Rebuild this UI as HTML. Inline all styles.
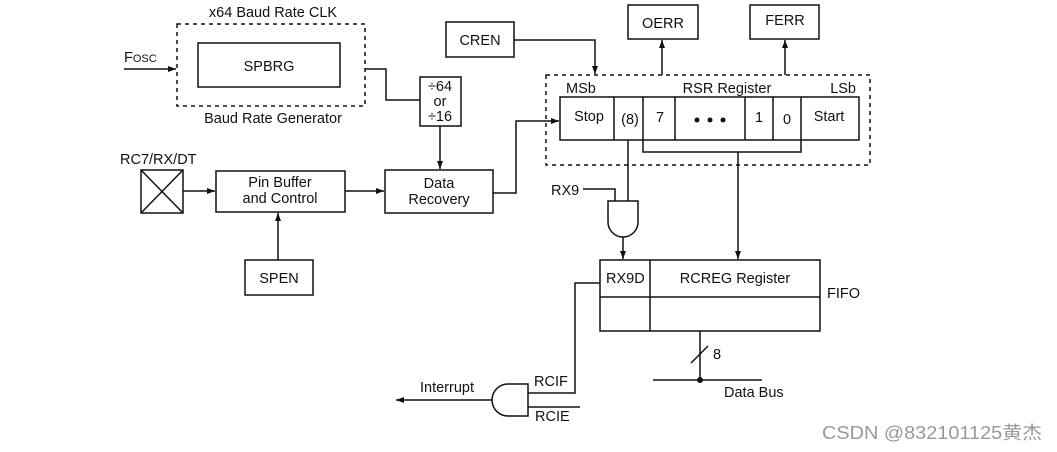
<!DOCTYPE html>
<html><head><meta charset="utf-8"><style>
body{margin:0;background:#fff}
svg{display:block}
text{font-family:"Liberation Sans",Arial,sans-serif;font-size:14.5px;fill:#111}
</style></head><body>
<svg width="1057" height="452" viewBox="0 0 1057 452" xmlns="http://www.w3.org/2000/svg">
<defs><marker id="a" markerWidth="8" markerHeight="6" refX="8" refY="3" orient="auto" markerUnits="userSpaceOnUse"><path d="M0,0 L8,3 L0,6 z" fill="#111"/></marker></defs>
<g stroke="#111" stroke-width="1.5" fill="none">
<rect x="177" y="24" width="188" height="82" stroke-dasharray="4,4"/>
<rect x="198" y="43" width="142" height="44"/>
<line x1="124" y1="69" x2="176" y2="69" marker-end="url(#a)"/>
<polyline points="365,69 386,69 386,100 420,100"/>
<rect x="420" y="77" width="41" height="49"/>
<line x1="440" y1="126" x2="440" y2="169" marker-end="url(#a)"/>
<rect x="385" y="170" width="108" height="43"/>
<rect x="141" y="170" width="42" height="43"/>
<line x1="141" y1="170" x2="183" y2="213"/><line x1="183" y1="170" x2="141" y2="213"/>
<line x1="183" y1="191" x2="215" y2="191" marker-end="url(#a)"/>
<rect x="216" y="171" width="129" height="41"/>
<line x1="345" y1="191" x2="384" y2="191" marker-end="url(#a)"/>
<rect x="245" y="260" width="68" height="35"/>
<line x1="278" y1="260" x2="278" y2="213" marker-end="url(#a)"/>
<polyline points="493,193 516,193 516,121 559,121" marker-end="url(#a)"/>
<rect x="446" y="22" width="68" height="35"/>
<polyline points="514,40 595,40 595,74" marker-end="url(#a)"/>
<rect x="628" y="5" width="70" height="34"/>
<rect x="750" y="5" width="69" height="34"/>
<line x1="662" y1="75" x2="662" y2="40" marker-end="url(#a)"/>
<line x1="785" y1="75" x2="785" y2="40" marker-end="url(#a)"/>
<rect x="546" y="75" width="324" height="90" stroke-dasharray="4,4"/>
<rect x="560" y="97" width="299" height="43"/>
<line x1="614" y1="97" x2="614" y2="140"/><line x1="643" y1="97" x2="643" y2="140"/>
<line x1="675" y1="97" x2="675" y2="140"/><line x1="745" y1="97" x2="745" y2="140"/>
<line x1="773" y1="97" x2="773" y2="140"/><line x1="801" y1="97" x2="801" y2="140"/>
<polyline points="643,140 643,152 801,152 801,140"/>
<line x1="738" y1="152" x2="738" y2="259" marker-end="url(#a)"/>
<line x1="628" y1="140" x2="628" y2="201"/>
<polyline points="583,189 615,189 615,201"/>
<path d="M608,201 H638 V222 A15,15 0 0 1 608,222 Z"/>
<line x1="623" y1="237" x2="623" y2="259" marker-end="url(#a)"/>
<rect x="600" y="260" width="220" height="71"/>
<line x1="600" y1="297" x2="820" y2="297"/>
<line x1="650" y1="260" x2="650" y2="331"/>
<polyline points="600,283 575,283 575,393 528,393"/>
<line x1="528" y1="407" x2="580" y2="407"/>
<path d="M528,384 V416 H508 A16,16 0 0 1 508,384 Z"/>
<line x1="492" y1="400" x2="396" y2="400" marker-end="url(#a)"/>
<line x1="700" y1="331" x2="700" y2="380"/>
<line x1="691" y1="363" x2="708" y2="346"/>
<line x1="653" y1="380" x2="762" y2="380"/>
</g>
<circle cx="700" cy="380" r="3" fill="#111"/>
<circle cx="697" cy="120" r="2.5" fill="#111"/><circle cx="710" cy="120" r="2.5" fill="#111"/><circle cx="723" cy="120" r="2.5" fill="#111"/>
<text x="273" y="17" text-anchor="middle">x64 Baud Rate CLK</text>
<text x="273" y="123" text-anchor="middle">Baud Rate Generator</text>
<text x="269" y="71" text-anchor="middle">SPBRG</text>
<text x="124" y="62">F<tspan font-size="11">OSC</tspan></text>
<text x="440" y="91" text-anchor="middle">÷64</text>
<text x="440" y="106" text-anchor="middle">or</text>
<text x="440" y="121" text-anchor="middle">÷16</text>
<text x="439" y="188" text-anchor="middle">Data</text>
<text x="439" y="204" text-anchor="middle">Recovery</text>
<text x="120" y="164">RC7/RX/DT</text>
<text x="280" y="187" text-anchor="middle">Pin Buffer</text>
<text x="280" y="203" text-anchor="middle">and Control</text>
<text x="279" y="283" text-anchor="middle">SPEN</text>
<text x="480" y="45" text-anchor="middle">CREN</text>
<text x="663" y="28" text-anchor="middle">OERR</text>
<text x="785" y="25" text-anchor="middle">FERR</text>
<text x="566" y="93">MSb</text>
<text x="727" y="93" text-anchor="middle">RSR Register</text>
<text x="856" y="93" text-anchor="end">LSb</text>
<text x="589" y="121" text-anchor="middle">Stop</text>
<text x="630" y="124" text-anchor="middle">(8)</text>
<text x="660" y="122" text-anchor="middle">7</text>
<text x="759" y="122" text-anchor="middle">1</text>
<text x="787" y="124" text-anchor="middle">0</text>
<text x="829" y="121" text-anchor="middle">Start</text>
<text x="551" y="195">RX9</text>
<text x="606" y="283">RX9D</text>
<text x="735" y="283" text-anchor="middle">RCREG Register</text>
<text x="827" y="298">FIFO</text>
<text x="420" y="392">Interrupt</text>
<text x="534" y="386">RCIF</text>
<text x="535" y="421">RCIE</text>
<text x="713" y="359">8</text>
<text x="724" y="397">Data Bus</text>
<text x="822" y="439" textLength="220" lengthAdjust="spacingAndGlyphs" style="font-family:'Liberation Sans','Noto Sans CJK SC',sans-serif;font-size:18px;fill:#999">CSDN @832101125黄杰</text>
</svg>
</body></html>
